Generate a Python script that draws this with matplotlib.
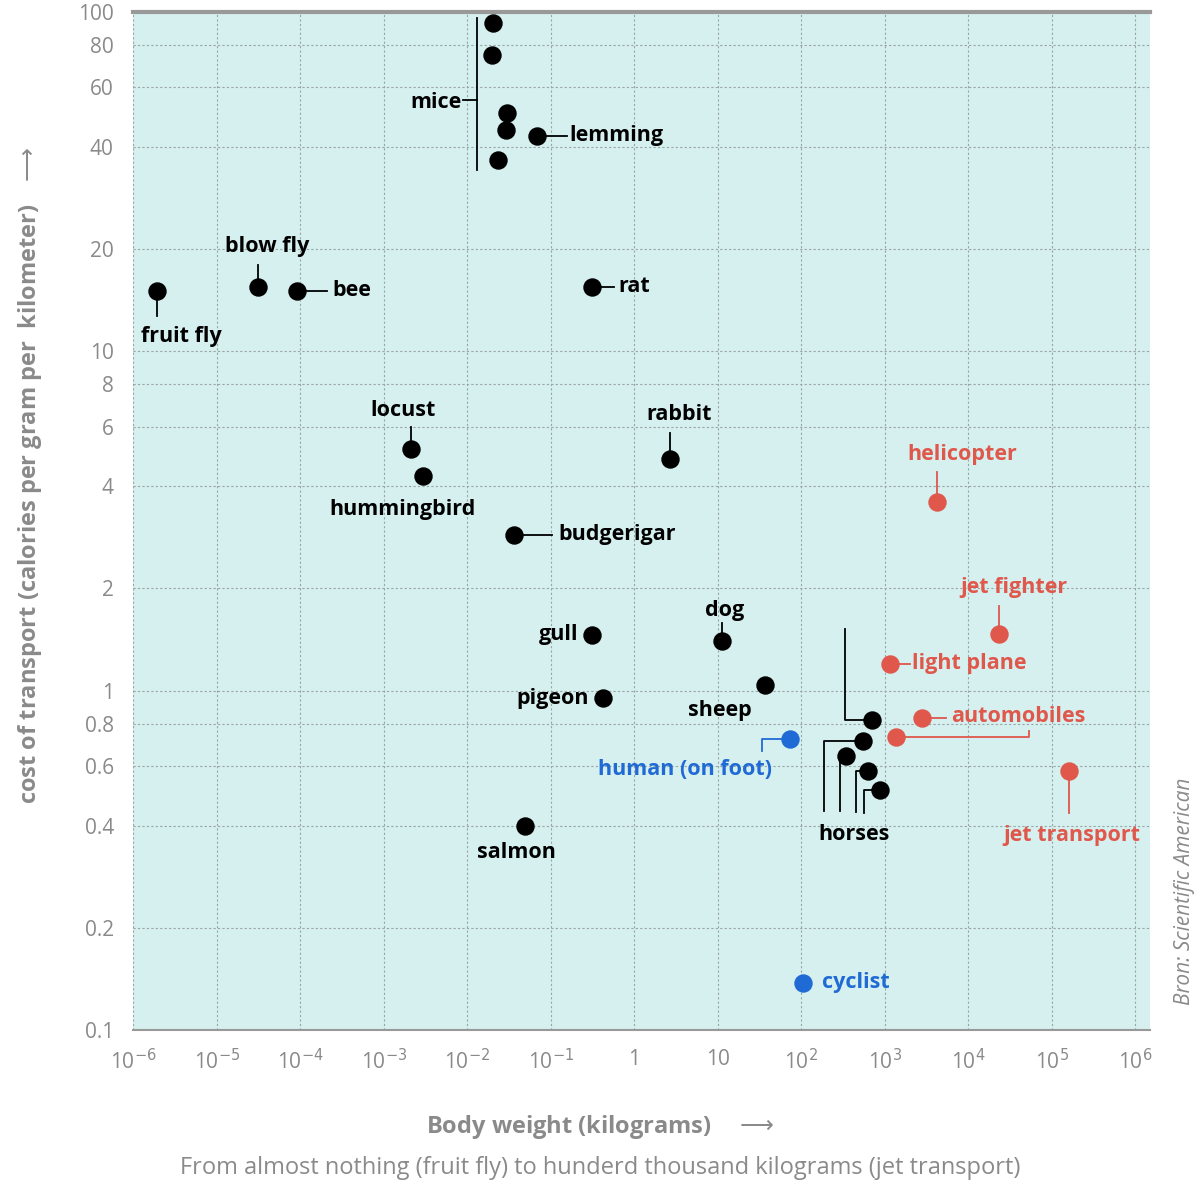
import numpy as np
import matplotlib.pyplot as plt

# body weight (kg) and cost of transport (cal / g / km)
names = ['fruit fly', 'blow fly', 'bee', 'mice1', 'mice2', 'mice3', 'mice4', 'mice5',
         'lemming', 'rat', 'locust', 'hummingbird', 'rabbit', 'budgerigar', 'gull',
         'dog', 'sheep', 'pigeon', 'salmon',
         'horse1', 'horse2', 'horse3', 'horse4', 'horse5']
log_weight = [-5.72, -4.5, -4.04, -1.69, -1.70, -1.53, -1.54, -1.63,
              -1.16, -0.51, -2.67, -2.53, 0.43, -1.44, -0.51,
              1.05, 1.56, -0.37, -1.31,
              2.85, 2.74, 2.53, 2.80, 2.94]
cost = [15.1, 15.5, 15.1, 92.9, 74.6, 50.4, 44.8, 36.6,
        43.2, 15.5, 5.15, 4.29, 4.82, 2.88, 1.46,
        1.40, 1.04, 0.95, 0.40,
        0.82, 0.71, 0.64, 0.58, 0.51]

machines = ['helicopter', 'jet fighter', 'light plane', 'auto1', 'auto2', 'jet transport']
machine_logw = [3.62, 4.37, 3.06, 3.44, 3.13, 5.21]
machine_cost = [3.6, 1.47, 1.20, 0.83, 0.73, 0.58]

humans = ['human (on foot)', 'cyclist']
human_logw = [1.87, 2.02]
human_cost = [0.72, 0.138]

yticks = [0.1, 0.2, 0.4, 0.6, 0.8, 1, 2, 4, 6, 8, 10, 20, 40, 60, 80, 100]
ytick_labels = ['0.1', '0.2', '0.4', '0.6', '0.8', '1', '2', '4', '6', '8', '10', '20', '40', '60', '80', '100']
xticks = [-6, -5, -4, -3, -2, -1, 0, 1, 2, 3, 4, 5, 6]
xtick_labels = ['10$^{-6}$', '10$^{-5}$', '10$^{-4}$', '10$^{-3}$', '10$^{-2}$', '10$^{-1}$', '1', '10',
                '10$^{2}$', '10$^{3}$', '10$^{4}$', '10$^{5}$', '10$^{6}$']

RED = '#e0574c'
BLUE = '#1f6ad4'
GREY = '#8a8a8a'
plt.rcParams['font.family'] = 'Open Sans'

fig = plt.figure(figsize=(12, 11.88), dpi=100)
ax = fig.add_axes([0.111, 0.133, 0.847, 0.857])
ax.set_facecolor('#d5f0ee')
ax.set_xscale('log')
ax.set_yscale('log')
ax.set_xlim(10 ** -5.94, 10 ** 6.17)
ax.set_ylim(0.1, 100)

ax.set_yticks(yticks)
ax.set_yticklabels(ytick_labels, fontsize=15, color=GREY)
ax.yaxis.set_minor_locator(plt.NullLocator())
ax.set_xticks([10.0 ** v for v in xticks])
ax.set_xticklabels(xtick_labels, fontsize=15, color=GREY)
ax.xaxis.set_minor_locator(plt.NullLocator())
ax.tick_params(length=0, pad=14)
ax.grid(True, color='#9aa6a6', linestyle=(0, (2, 2)), linewidth=0.8)
for s in ['left', 'right']:
    ax.spines[s].set_visible(False)
ax.spines['top'].set_color('#999999')
ax.spines['top'].set_linewidth(3)
ax.spines['bottom'].set_color('#999999')
ax.spines['bottom'].set_linewidth(1.5)

w = [10.0 ** v for v in log_weight]
mw = [10.0 ** v for v in machine_logw]
hw = [10.0 ** v for v in human_logw]
ax.scatter(w, cost, s=150, color='black', zorder=3)
ax.scatter(mw, machine_cost, s=150, color=RED, zorder=3)
ax.scatter(hw, human_cost, s=150, color=BLUE, zorder=3)


def leader(x, y, offs, color='black', from_point=True):
    # polyline near a point, offsets in pixels (y up)
    p = ax.transData.transform((x, y))
    offs = ([(0, 0)] + offs) if from_point else offs
    pts = [p + np.array(o) for o in offs]
    d = ax.transData.inverted().transform(pts)
    ax.plot(d[:, 0], d[:, 1], color=color, lw=1.3, zorder=2)


def label(txt, x, y, dx, dy, color='black', ha='center'):
    ax.annotate(txt, (x, y), xytext=(dx, dy), textcoords='offset pixels',
                ha=ha, va='center', fontsize=15.5, fontweight='bold', color=color)


pos = dict(zip(names, zip(w, cost)))
mpos = dict(zip(machines, zip(mw, machine_cost)))
hpos = dict(zip(humans, zip(hw, human_cost)))

label('fruit fly', *pos['fruit fly'], 25, -46); leader(*pos['fruit fly'], [(0, -25)])
label('blow fly', *pos['blow fly'], 9, 40); leader(*pos['blow fly'], [(0, 22)])
label('bee', *pos['bee'], 35, 0, ha='left'); leader(*pos['bee'], [(30, 0)])
label('mice', *pos['mice1'], -32, -80, ha='right')
leader(*pos['mice1'], [(-16, 5), (-16, -147)], from_point=False)
leader(*pos['mice1'], [(-16, -77), (-30, -77)], from_point=False)
label('lemming', *pos['lemming'], 32, 0, ha='left'); leader(*pos['lemming'], [(30, 0)])
label('rat', *pos['rat'], 27, 0, ha='left'); leader(*pos['rat'], [(22, 0)])
label('locust', *pos['locust'], -8, 39); leader(*pos['locust'], [(0, 22)])
label('hummingbird', *pos['hummingbird'], -21, -34)
label('rabbit', *pos['rabbit'], 9, 44); leader(*pos['rabbit'], [(0, 26)])
label('budgerigar', *pos['budgerigar'], 44, 0, ha='left'); leader(*pos['budgerigar'], [(38, 0)])
label('gull', *pos['gull'], -13, 0, ha='right')
label('dog', *pos['dog'], 3, 31); leader(*pos['dog'], [(0, 18)])
label('sheep', *pos['sheep'], -45, -26)
label('pigeon', *pos['pigeon'], -15, 0, ha='right')
label('salmon', *pos['salmon'], -8, -27)
label('horses', *pos['horse5'], -26, -45)
leader(*pos['horse1'], [(-27, 0), (-27, 91)])
leader(*pos['horse2'], [(-39, 0), (-39, -70)])
leader(*pos['horse3'], [(-6, 0), (-6, -55)])
leader(*pos['horse4'], [(-12, 0), (-12, -41)])
leader(*pos['horse5'], [(-16, 0), (-16, -23)])

label('helicopter', *mpos['helicopter'], 26, 47, color=RED); leader(*mpos['helicopter'], [(0, 30)], RED)
label('jet fighter', *mpos['jet fighter'], 15, 46, color=RED); leader(*mpos['jet fighter'], [(0, 28)], RED)
label('light plane', *mpos['light plane'], 22, 0, color=RED, ha='left'); leader(*mpos['light plane'], [(20, 0)], RED)
label('automobiles', *mpos['auto1'], 30, 2, color=RED, ha='left'); leader(*mpos['auto1'], [(24, 0)], RED)
leader(*mpos['auto2'], [(133, 0), (133, 6)], RED)
label('jet transport', *mpos['jet transport'], 2, -65, color=RED); leader(*mpos['jet transport'], [(0, -42)], RED)

label('human (on foot)', *hpos['human (on foot)'], -105, -30, color=BLUE)
leader(*hpos['human (on foot)'], [(-28, 0), (-28, -12)], BLUE)
label('cyclist', *hpos['cyclist'], 19, 0, color=BLUE, ha='left')

fig.text(0.025, 0.6, r'cost of transport (calories per gram per  kilometer)   $\longrightarrow$', rotation=90,
         ha='center', va='center', fontsize=17, fontweight='bold', color=GREY)
fig.text(0.5, 0.051, r'Body weight (kilograms)    $\longrightarrow$', ha='center', va='center',
         fontsize=17, fontweight='bold', color=GREY)
fig.text(0.5, 0.017, 'From almost nothing (fruit fly) to hunderd thousand kilograms (jet transport)',
         ha='center', va='center', fontsize=17, color=GREY)
fig.text(0.987, 0.25, 'Bron: Scientific American', rotation=90, ha='center', va='center',
         fontsize=15, style='italic', color=GREY)

fig.savefig('out.png', dpi=100)
